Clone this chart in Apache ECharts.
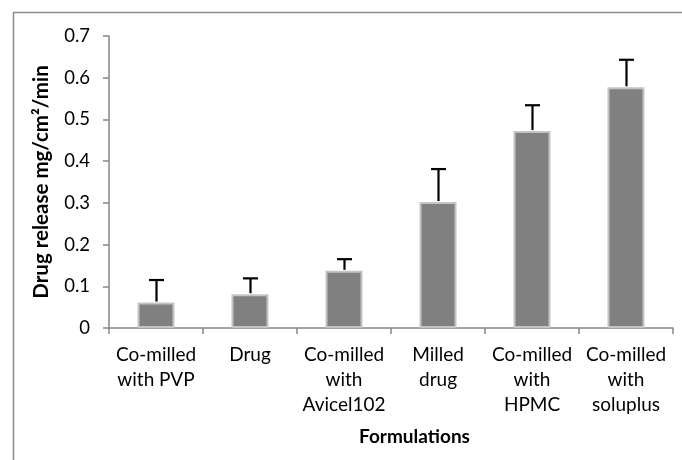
<!DOCTYPE html>
<html>
<head>
<meta charset="utf-8">
<script src="https://cdn.jsdelivr.net/npm/echarts@6/dist/echarts.min.js"></script>
<style>html,body{margin:0;padding:0;background:#fff;}#c{width:682px;height:460px;}</style>
</head>
<body>
<div id="c"></div>
<script>
const categories = ["Co-milled\nwith PVP", "Drug", "Co-milled\nwith\nAvicel102", "Milled\ndrug", "Co-milled\nwith\nHPMC", "Co-milled\nwith\nsoluplus"];
const releaseRate = [0.061, 0.081, 0.137, 0.302, 0.472, 0.577];
const releaseError = [0.054, 0.038, 0.028, 0.079, 0.062, 0.066];
const yTicks = [0, 0.1, 0.2, 0.3, 0.4, 0.5, 0.6, 0.7];

const FONT = 'Lato';
const errData = releaseRate.map((v, i) => [i, v, v + releaseError[i]]);

const chart = echarts.init(document.getElementById('c'), null, {renderer: 'canvas'});
chart.setOption({
  animation: false,
  backgroundColor: '#fff',
  textStyle: {fontFamily: FONT},
  title: {
    text: 'Formulations',
    left: 359, top: 427,
    padding: 0,
    textStyle: {fontFamily: FONT, fontWeight: 'bold', fontSize: 19, color: '#000'}
  },
  graphic: [{
    type: 'rect', silent: true,
    shape: {x: 13.5, y: 12.5, width: 700, height: 480},
    style: {fill: 'none', stroke: '#8a8a8a', lineWidth: 1.5}
  }],
  grid: {left: 109, right: 9, top: 36, bottom: 132, containLabel: false},
  xAxis: {
    type: 'category',
    data: categories,
    boundaryGap: true,
    axisLine: {lineStyle: {color: '#868686', width: 1.5}},
    axisTick: {show: true, alignWithLabel: false, length: 6, lineStyle: {color: '#868686', width: 1.5}},
    axisLabel: {interval: 0, color: '#000', fontFamily: FONT, fontSize: 19, lineHeight: 25, margin: 14}
  },
  yAxis: {
    type: 'value',
    min: yTicks[0], max: yTicks[yTicks.length - 1], interval: 0.1,
    name: 'Drug release mg/cm²/min',
    nameLocation: 'middle', nameRotate: 90, nameGap: 57,
    nameTextStyle: {fontFamily: FONT, fontWeight: 'bold', fontSize: 20.5, color: '#000'},
    splitLine: {show: false},
    axisLine: {show: true, lineStyle: {color: '#868686', width: 1.5}},
    axisTick: {show: true, length: 6, lineStyle: {color: '#868686', width: 1.5}},
    axisLabel: {color: '#000', fontFamily: FONT, fontSize: 18.5, margin: 19,
      formatter: v => (Math.round(v * 10) / 10).toString()}
  },
  series: [{
    type: 'bar',
    data: releaseRate,
    barWidth: 37,
    itemStyle: {color: '#808080', borderColor: '#c4c4c4', borderWidth: 2}
  }, {
    type: 'custom',
    data: errData,
    z: 10,
    renderItem: function (params, api) {
      const x = api.value(0);
      const top = api.coord([x, api.value(2)]);
      const base = api.coord([x, api.value(1)]);
      const cx = Math.round(top[0]) + 0.5;
      return {
        type: 'group',
        children: [
          {type: 'line', shape: {x1: cx, y1: top[1], x2: cx, y2: base[1] - 1}, style: {stroke: '#000', lineWidth: 2.2}},
          {type: 'line', shape: {x1: cx - 7.5, y1: top[1], x2: cx + 7.5, y2: top[1]}, style: {stroke: '#000', lineWidth: 2.2}}
        ]
      };
    }
  }]
});
</script>
</body>
</html>
